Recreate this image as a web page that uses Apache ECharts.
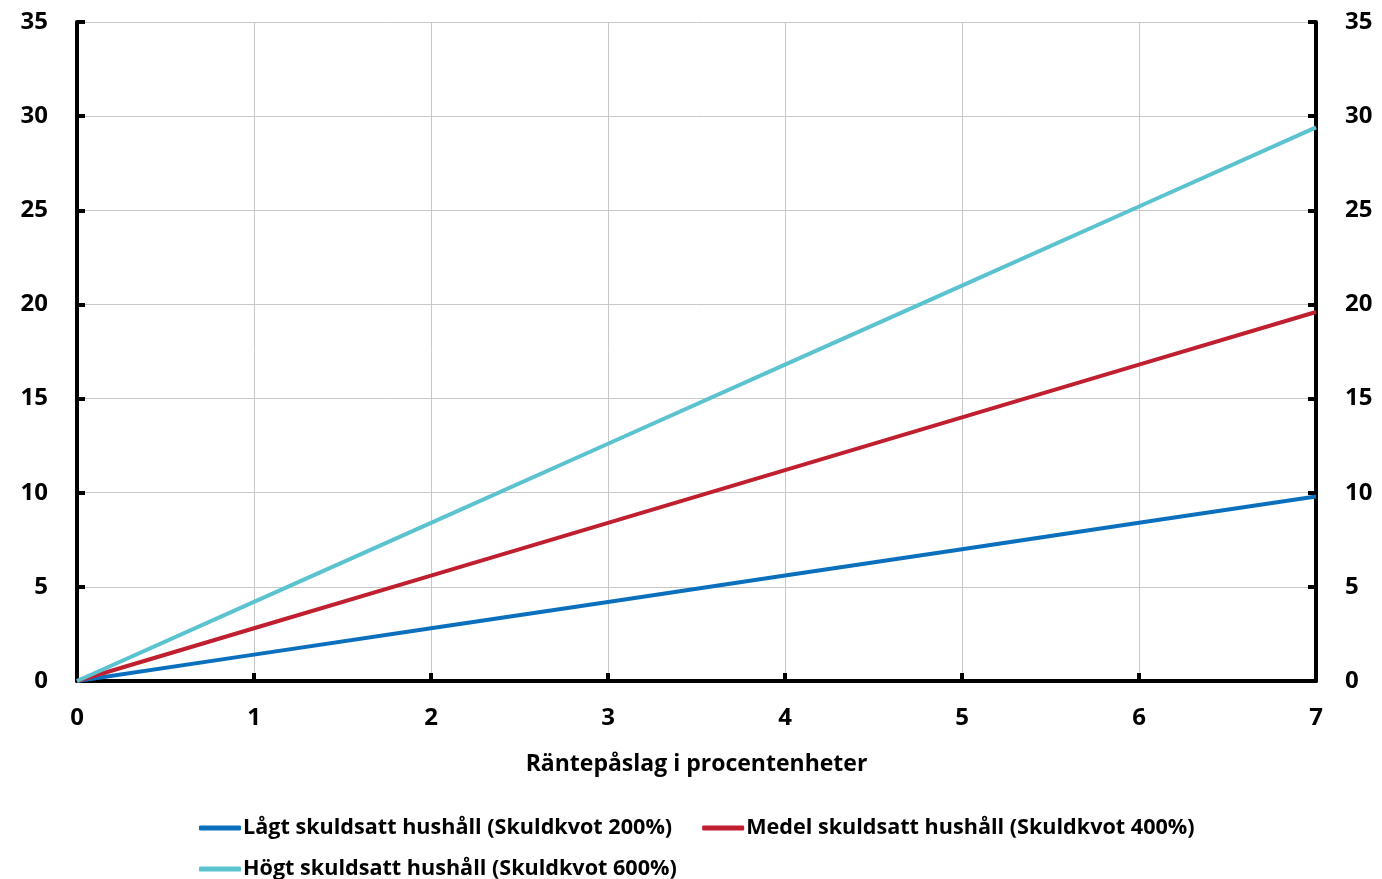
<!DOCTYPE html>
<html>
<head>
<meta charset="utf-8">
<script src="https://cdn.jsdelivr.net/npm/echarts@6/dist/echarts.min.js"></script>
<style>
  html, body { margin: 0; padding: 0; background: #fff; }
  #chart { width: 1382px; height: 879px; }
</style>
</head>
<body>
<div id="chart"></div>
<script>
// Interest surcharge in percentage points
const rateIncrease = [0, 1, 2, 3, 4, 5, 6, 7];
// Share of income, per household debt level
const lowDebt = [0, 1.4, 2.8, 4.2, 5.6, 7.0, 8.4, 9.8];
const mediumDebt = [0, 2.8, 5.6, 8.4, 11.2, 14.0, 16.8, 19.6];
const highDebt = [0, 4.2, 8.4, 12.6, 16.8, 21.0, 25.2, 29.4];
const seriesNames = [
  'Lågt skuldsatt hushåll (Skuldkvot 200%)',
  'Medel skuldsatt hushåll (Skuldkvot 400%)',
  'Högt skuldsatt hushåll (Skuldkvot 600%)'
];
const colors = ['#0a6fbd', '#c01f2f', '#5bc2d0'];

const font = '"Open Sans", "DejaVu Sans", sans-serif';
const pairs = (ys) => rateIncrease.map((x, i) => [x, ys[i]]);

const yAxisBase = {
  type: 'value', min: 0, max: 35, interval: 5,
  axisLine: { show: true, lineStyle: { color: '#000', width: 4 } },
  axisTick: { show: true, inside: true, length: 8, lineStyle: { color: '#000', width: 4 } },
  axisLabel: { color: '#000', fontSize: 24, fontWeight: 'bold', fontFamily: font, margin: 29 },
};

const legendBase = {
  left: 194, orient: 'horizontal', icon: 'roundRect',
  itemWidth: 42, itemHeight: 5, itemGap: 30,
  textStyle: { color: '#000', fontSize: 21.6, fontWeight: 'bold', fontFamily: font, padding: [0, 0, 0, -3] },
};

const chart = echarts.init(document.getElementById('chart'), null, { renderer: 'canvas' });
chart.setOption({
  animation: false,
  color: colors,
  grid: { left: 77, right: 66, top: 22, bottom: 198, containLabel: false },
  xAxis: {
    type: 'value', min: 0, max: 7, interval: 1,
    name: 'Räntepåslag i procentenheter', nameLocation: 'middle', nameGap: 72,
    nameTextStyle: { color: '#000', fontSize: 23, fontWeight: 'bold', fontFamily: font },
    axisLine: { show: true, onZero: false, lineStyle: { color: '#000', width: 4 } },
    axisTick: { show: true, inside: true, length: 8, lineStyle: { color: '#000', width: 4 } },
    axisLabel: { color: '#000', fontSize: 24, fontWeight: 'bold', fontFamily: font, margin: 25 },
    splitLine: { show: true, lineStyle: { color: '#c8c8c8', width: 1 } },
  },
  yAxis: [
    Object.assign({}, yAxisBase, {
      position: 'left',
      splitLine: { show: true, lineStyle: { color: '#c8c8c8', width: 1 } },
    }),
    Object.assign({}, yAxisBase, {
      position: 'right',
      splitLine: { show: false },
    }),
  ],
  legend: [
    Object.assign({}, legendBase, { top: 812, data: [seriesNames[0], seriesNames[1]] }),
    Object.assign({}, legendBase, { top: 853, data: [seriesNames[2]] }),
  ],
  series: [
    { name: seriesNames[0], type: 'line', data: pairs(lowDebt), showSymbol: false, lineStyle: { width: 4 }, z: 3 },
    { name: seriesNames[1], type: 'line', data: pairs(mediumDebt), showSymbol: false, lineStyle: { width: 4 }, z: 3 },
    { name: seriesNames[2], type: 'line', data: pairs(highDebt), showSymbol: false, lineStyle: { width: 4 }, z: 3 },
  ],
});
</script>
</body>
</html>
